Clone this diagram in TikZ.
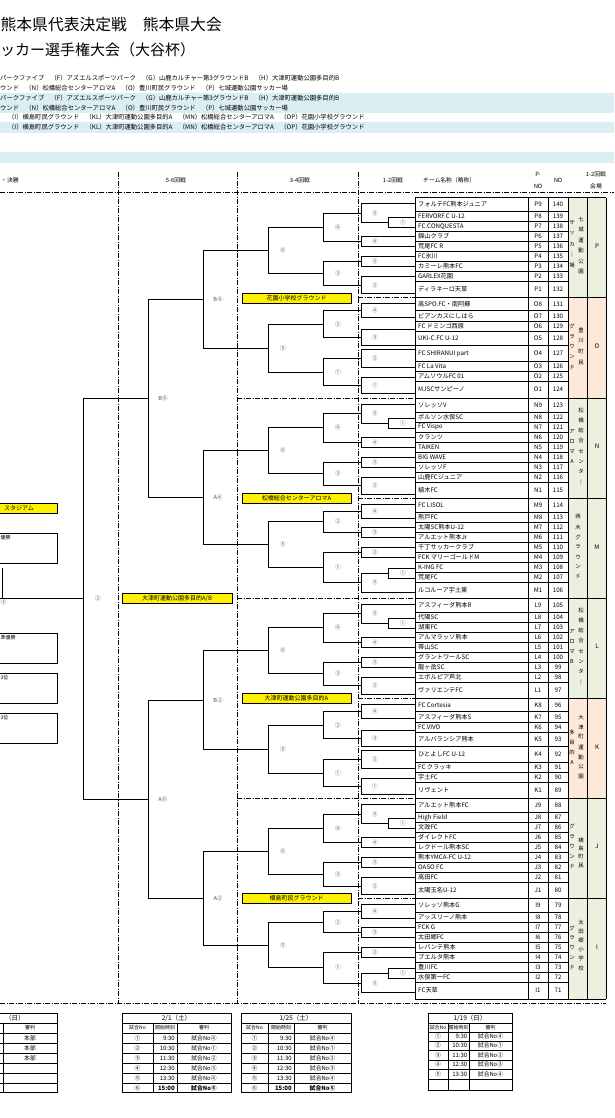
\documentclass[tikz,border=0pt]{standalone}
\usepackage{fontspec}
\setmainfont{Noto Sans CJK JP}
\definecolor{band}{HTML}{DAEEF3}
\definecolor{grn}{HTML}{EBF1DE}
\definecolor{pch}{HTML}{FDE9D9}
\tikzset{
  fs/.style={font=\fontsize{#1}{#1}\selectfont},
  num/.style={fs=5.6,inner sep=0pt,text=black!70},
  team/.style={fs=6.2,inner sep=0pt,anchor=west},
  cel/.style={fs=6.2,inner sep=0pt},
  small/.style={fs=5,inner sep=0pt},
  sched/.style={fs=5.8,inner sep=0pt},
  vtxt/.style={fs=5.4,inner sep=0pt},
  keyline/.style={fs=6.3,inner sep=0pt,anchor=west},
  hdr/.style={fs=5.8,inner sep=0pt},
  court/.style={draw,fill=yellow,fs=6,inner sep=0pt,minimum height=10pt},
  ddash/.style={line width=.7pt,dash pattern=on 5pt off 1.5pt on 1pt off 1.5pt},
  brk/.style={line width=.8pt},
}
\begin{document}
\begin{tikzpicture}[x=1pt,y=-1pt]
\useasboundingbox (0,0) rectangle (614,1118);
\fill[band] (0,93) rectangle (614,113) (0,122) rectangle (614,133) (0,152) rectangle (614,163);
% title and venue key
\node[fs=15.8,anchor=east,inner sep=0pt] (title1) at (222,25) {熊本県代表決定戦　熊本県大会};
\node[fs=15,anchor=west,inner sep=0pt] (title2) at (0,50) {ッカー選手権大会（大谷杯）};
\foreach \yy/\i in {78/1,98/2}{
  \node[keyline] (keya\i) at (0,\yy) {パークファイブ　（F）アズエルスポーツパーク　（G）山鹿カルチャー第3グラウンドB　（H）大津町運動公園多目的B};
  \node[keyline] (keyb\i) at (0,\yy+10) {ウンド　（N）松橋総合センターアロマA　（O）豊川町民グラウンド　（P）七城運動公園サッカー場};
}
\foreach \yy/\i in {117/1,127/2}
  \node[keyline] (keyc\i) at (8,\yy) {（I）横島町民グラウンド　（KL）大津町運動公園多目的A　（MN）松橋総合センターアロマA　（OP）花園小学校グラウンド};
% column heads
\node[hdr,anchor=west] (hfin) at (1,180) {・決勝};
\node[hdr] (h56) at (176,180) {5-6回戦};
\node[hdr] (h34) at (300,180) {3-4回戦};
\node[hdr] (h12) at (393,180) {1-2回戦};
\node[hdr,anchor=west] (hteam) at (423,180) {チーム名称（略称）};
\node[hdr] (hpa) at (538,174) {P-};
\node[hdr] (hpb) at (538,186) {NO};
\node[hdr] (hno) at (558,180) {NO};
\node[hdr] (hva) at (596,174) {1-2回戦};
\node[hdr] (hvb) at (596,186) {会場};
% venue colours
\foreach \tp/\bt/\col in {197.5/297.5/grn,297.5/398/pch,398/498/grn,498/598/grn,598/698.5/grn,698.5/798.5/pch,798.5/898.5/grn,898.5/999/grn}
  \fill[\col] (568,\tp) rectangle (606,\bt);
% dash-dot frame
\foreach \x in {118,237,358} \draw[ddash] (\x,172) -- (\x,1003);
\draw[ddash] (0,192) -- (614,192);
\draw[ddash] (0,1003) -- (606,1003);
\foreach \yy in {297.5,498,698.5,898.5} \draw[ddash] (358,\yy) -- (415,\yy);
\foreach \yy in {398,598,798.5} \draw[ddash] (237,\yy) -- (415,\yy);
% table lines
\foreach \tp in {197.5,398,498,598,798.5,898.5}
  \foreach \r in {14,24,34,44,54,64,74,84} \draw[line width=.5pt] (415,\tp+\r) -- (568,\tp+\r);
\foreach \tp in {297.5,698.5}
  \foreach \r in {13,24,34,48,64,74,84} \draw[line width=.5pt] (415,\tp+\r) -- (568,\tp+\r);
\foreach \yy in {197.5,297.5,398,498,598,698.5,798.5,898.5,999} \draw[line width=1pt] (415,\yy) -- (606,\yy);
\foreach \x in {415,528,548,568,587,606} \draw[line width=.6pt] (\x,197.5) -- (\x,999);
% teams, nine per block
\foreach \tp/\lst in {
  197.5/{フォルテFC熊本ジュニア/P9/140,FERVORF.C U-12/P8/139,FC.CONQUESTA/P7/138,錦山クラブ/P6/137,荒尾FC R/P5/136,FC氷川/P4/135,カミーレ熊本FC/P3/134,GARLEX花園/P2/133,ディラネーロ天草/P1/132},
  398/{ソレッソV/N9/123,ボルソン水俣SC/N8/122,FC Vispo/N7/121,クランツ/N6/120,TAIKEN/N5/119,BIG WAVE/N4/118,ソレッソF/N3/117,山鹿FCジュニア/N2/116,植木FC/N1/115},
  498/{FC LISOL/M9/114,熊戸FC/M8/113,太陽SC熊本U-12/M7/112,アルエット熊本Jr/M6/111,千丁サッカークラブ/M5/110,FCK マリーゴールドM/M4/109,K-ING FC/M3/108,荒尾FC/M2/107,ルコルーア宇土東/M1/106},
  598/{アスフィーダ熊本R/L9/105,代陽SC/L8/104,湖東FC/L7/103,アルマラッソ熊本/L6/102,帯山SC/L5/101,グラントワールSC/L4/100,龍ヶ岳SC/L3/99,エボルピア芦北/L2/98,ヴァリエンテFC/L1/97},
  798.5/{アルエット熊本FC/J9/88,High Field/J8/87,文政FC/J7/86,ダイレクトFC/J6/85,レクドール熊本SC/J5/84,熊本YMCA-FC U-12/J4/83,OASO FC/J3/82,高田FC/J2/81,太陽玉名U-12/J1/80},
  898.5/{ソレッソ熊本G/I9/79,アッスリーノ熊本/I8/78,FCK G/I7/77,太田郷FC/I6/76,レバンテ熊本/I5/75,ブエルタ熊本/I4/74,豊川FC/I3/73,水俣第一FC/I2/72,FC天草/I1/71}}
  \foreach \nm/\pn/\nr [count=\i] in \lst {
    \pgfmathsetmacro\yy{\tp+{7,19,29,39,49,59,69,79,92}[\i-1]}
    \node[team] (t\pn) at (418,\yy) {\nm};
    \node[cel] (p\pn) at (538,\yy) {\pn};
    \node[cel] (n\pn) at (558,\yy) {\nr};
  }
% teams, eight per block
\foreach \tp/\lst in {
  297.5/{高SPO.FC・南阿蘇/O8/131,ビアンカスにしはら/O7/130,FC ドミンゴ西原/O6/129,UKI-C.FC U-12/O5/128,FC SHIRANUI part/O4/127,FC La Vita/O3/126,アムソウルFC 01/O2/125,MJSCサンピーノ/O1/124},
  698.5/{FC Cortesia/K8/96,アスフィーダ熊本S/K7/95,FC.VIVO/K6/94,アルバランシア熊本/K5/93,ひとよしFC U-12/K4/92,FC クラッキ/K3/91,宇土FC/K2/90,リヴェント/K1/89}}
  \foreach \nm/\pn/\nr [count=\i] in \lst {
    \pgfmathsetmacro\yy{\tp+{6.5,18.5,29,41,56,69,79,92}[\i-1]}
    \node[team] (t\pn) at (418,\yy) {\nm};
    \node[cel] (p\pn) at (538,\yy) {\pn};
    \node[cel] (n\pn) at (558,\yy) {\nr};
  }
% venue names
\foreach \x/\yy/\dy/\chars in {581/219/10.6/{七,城,運,動,公,園},572/223/10.5/{サ,ッ,カ,｜,場},
  581/330/10.7/{豊,川,町,民},572/326/10.3/{グ,ラ,ウ,ン,ド},
  581/410/10.3/{松,橋,総,合,セ,ン,タ,｜},572/432/10/{ア,ロ,マ,A},
  578/517/10/{西,木,グ,ラ,ウ,ン,ド},
  581/610/10.3/{松,橋,総,合,セ,ン,タ,｜},572/632/10/{ア,ロ,マ,B},
  581/717/10/{大,津,町,運,動,公,園},572/732/10.3/{多,目,的,A},
  581/840/8.5/{横,島,町,民},572/826/10.2/{グ,ラ,ウ,ン,ド},
  581/922/9.2/{太,田,郷,小,学,校},572/928/9.8/{グ,ラ,ウ,ン,ド}}
  \foreach \ch [count=\ci] in \chars \node[vtxt] at (\x,\yy+\dy*\ci-\dy) {\ch};
\foreach \ltr/\yy in {P/246,O/346,N/446,M/547,L/646,K/747,J/846,I/947}
  \node[cel] (v\ltr) at (597,\yy) {\ltr};
% brackets, nine teams
\foreach \tp/\bk in {197.5/P,398/N,598/L,798.5/J}{
  \draw[brk] (415,\tp+6) -| (361,\tp+25) -- (388,\tp+25)
    (415,\tp+20) -| (388,\tp+30) -- (415,\tp+30)
    (415,\tp+39) -| (361,\tp+49) -- (415,\tp+49)
    (415,\tp+59) -| (361,\tp+69) -- (415,\tp+69)
    (415,\tp+79) -| (361,\tp+96) -- (415,\tp+96)
    (361,\tp+15.5) -| (323,\tp+44) -- (361,\tp+44)
    (361,\tp+64) -| (323,\tp+87.5) -- (361,\tp+87.5)
    (323,\tp+29.75) -| (268,\tp+75.75) -- (323,\tp+75.75);
  \coordinate (out\bk) at (268,\tp+52.75);
  \foreach \x/\yy/\lab in {375/15.5/⑤,403/25/①,375/44/④,375/64/③,375/87.5/②,338/29.75/④,338/75.75/③,283/52.75/⑥}
    \node[num] at (\x,\tp+\yy) {\lab};
}
% brackets, eight teams
\foreach \tp/\bk in {297.5/O,698.5/K}{
  \draw[brk] (415,\tp+6) -| (361,\tp+20) -- (415,\tp+20)
    (415,\tp+32) -| (361,\tp+48) -- (415,\tp+48)
    (415,\tp+52) -| (361,\tp+70) -- (415,\tp+70)
    (415,\tp+80) -| (361,\tp+96) -- (415,\tp+96)
    (361,\tp+13) -| (323,\tp+40) -- (361,\tp+40)
    (361,\tp+61) -| (323,\tp+88) -- (361,\tp+88)
    (323,\tp+26.5) -| (268,\tp+74.5) -- (323,\tp+74.5);
  \coordinate (out\bk) at (268,\tp+50.5);
  \foreach \x/\yy/\lab in {375/13/④,375/40/③,375/61/②,375/88/①,338/26.5/②,338/74.5/①,283/50.5/⑤}
    \node[num] at (\x,\tp+\yy) {\lab};
}
% brackets, nine teams turned over
\foreach \tp/\bk in {498/M,898.5/I}{
  \draw[brk] (415,\tp+6) -| (361,\tp+20) -- (415,\tp+20)
    (415,\tp+29) -| (361,\tp+39) -- (415,\tp+39)
    (415,\tp+49) -| (361,\tp+59) -- (415,\tp+59)
    (415,\tp+70) -| (388,\tp+80) -- (415,\tp+80)
    (388,\tp+75) -| (361,\tp+94) -- (415,\tp+94)
    (361,\tp+13) -| (323,\tp+34) -- (361,\tp+34)
    (361,\tp+54) -| (323,\tp+84.5) -- (361,\tp+84.5)
    (323,\tp+23.5) -| (268,\tp+69.25) -- (323,\tp+69.25);
  \coordinate (out\bk) at (268,\tp+46.4);
  \foreach \x/\yy/\lab in {375/13/④,375/34/③,375/54/②,403/75/①,375/84.5/⑤,338/23.5/②,338/69.25/①,283/46.4/⑤}
    \node[num] at (\x,\tp+\yy) {\lab};
}
% 5-6 rounds and final
\draw[brk] (outP) -- ++(-65,0) |- (outO);
\draw[brk] (outN) -- ++(-65,0) |- (outM);
\draw[brk] (outL) -- ++(-65,0) |- (outK);
\draw[brk] (outJ) -- ++(-65,0) |- (outI);
\coordinate (rB4) at (203,299.1);
\coordinate (rA4) at (203,497.6);
\coordinate (rB2) at (203,699.9);
\coordinate (rA2) at (203,898.1);
\draw[brk] (rB4) -- ++(-55,0) |- (rA4);
\draw[brk] (rB2) -- ++(-55,0) |- (rA2);
\coordinate (rB6) at (148,398.35);
\coordinate (rA6) at (148,799);
\draw[brk] (rB6) -- ++(-65,0) |- (rA6);
\coordinate (rfin) at (83,598.7);
\coordinate (rend) at (-5,598.7);
\coordinate (rwin) at (2,568);
\draw[brk] (rfin) -- (rend);
\draw[brk] (rwin) -- (2,598.7);
\foreach \x/\yy/\lab in {218/299.1/B④,218/497.6/A④,218/699.9/B②,218/898.1/A②,163/398.35/B⑥,163/799/A⑥,98/598.7/②,3.5/602.5/③}
  \node[num] at (\x,\yy) {\lab};
% venue flags
\node[court,minimum width=109pt] (ctPO) at (296.5,298) {花園小学校グラウンド};
\node[court,minimum width=109pt] (ctNM) at (296.5,498) {松橋総合センターアロマA};
\node[court,minimum width=109pt] (ctLK) at (296.5,698.5) {大津町運動公園多目的A};
\node[court,minimum width=109pt] (ctJI) at (296.5,898.5) {横島町民グラウンド};
\node[court,minimum width=110pt] (ctSF) at (177,598) {大津町運動公園多目的A/B};
\node[court,anchor=east,minimum width=70pt] (ctFin) at (57,508) {};
\node[fs=6,inner sep=0pt,anchor=east] (stad) at (34,508) {スタジアム};
% places
\foreach \yy/\txt in {533/優勝,633/準優勝,673/3位,713/3位}{
  \draw[line width=.8pt] (-5,\yy) -| (57,\yy+30) -- (-5,\yy+30);
  \node[small,anchor=west] at (0.5,\yy+5) {\txt};
}
% schedules
\draw[line width=.8pt] (-5,1013) -| (57,1092) -- (-5,1092);
\foreach \yy in {1023,1033,1043,1053,1063,1073,1083} \draw[line width=.5pt] (-5,\yy) -- (57,\yy);
\draw[line width=.5pt] (3,1023) -- (3,1092);
\node[fs=6.5,inner sep=0pt,anchor=west] (day0) at (5,1018) {（日）};
\node[small] at (30,1028) {審判};
\foreach \i in {1,2,3} \node[sched] at (30,1028+10*\i) {本部};
\foreach \xa/\xb/\xc/\xd in {122/153/177/231,241/268/294/351}{
  \draw[line width=.8pt] (\xa,1013) rectangle (\xd,1092);
  \foreach \yy in {1023,1033,1043,1053,1063,1073,1083} \draw[line width=.5pt] (\xa,\yy) -- (\xd,\yy);
  \draw[line width=.5pt] (\xb,1023) -- (\xb,1092) (\xc,1023) -- (\xc,1092);
  \node[small] at ({(\xa+\xb)/2},1028) {試合No};
  \node[small] at ({(\xb+\xc)/2},1028) {開始時刻};
  \node[small] at ({(\xc+\xd)/2},1028) {審判};
  \foreach \mno/\tim/\refe [count=\i] in {①/9:30/試合No④,②/10:30/試合No①,③/11:30/試合No②,④/12:30/試合No③,⑤/13:30/試合No④,⑥/{\bfseries 15:00}/{\bfseries 試合No⑤}}{
    \node[sched] at ({(\xa+\xb)/2},1028+10*\i) {\mno};
    \node[fs=6,inner sep=0pt,anchor=east] at (\xc-2,1028+10*\i) {\tim};
    \node[sched] at ({(\xc+\xd)/2},1028+10*\i) {\refe};
  }
}
\node[fs=6.5,inner sep=0pt] (day1) at (176.5,1018) {2/1（土）};
\node[fs=6.5,inner sep=0pt] (day2) at (296,1018) {1/25（土）};
\draw[line width=.8pt] (428,1013) rectangle (512,1090);
\foreach \yy in {1023,1032,1041,1050,1060,1069,1079} \draw[line width=.5pt] (428,\yy) -- (512,\yy);
\draw[line width=.5pt] (448,1023) -- (448,1090) (469,1023) -- (469,1090);
\node[fs=6.5,inner sep=0pt] (day3) at (470,1018) {1/19（日）};
\node[small] at (438,1027.5) {試合No};
\node[small] at (458.5,1027.5) {開始時刻};
\node[small] at (490.5,1027.5) {審判};
\foreach \mno/\tim/\refe/\yy in {①/9:30/試合No④/1036.5,②/10:30/試合No①/1045.5,③/11:30/試合No②/1055,④/12:30/試合No③/1064.5,⑤/13:30/試合No④/1074}{
  \node[sched] at (438,\yy) {\mno};
  \node[fs=6,inner sep=0pt,anchor=east] at (467.5,\yy) {\tim};
  \node[sched] at (490.5,\yy) {\refe};
}
\end{tikzpicture}
\end{document}
